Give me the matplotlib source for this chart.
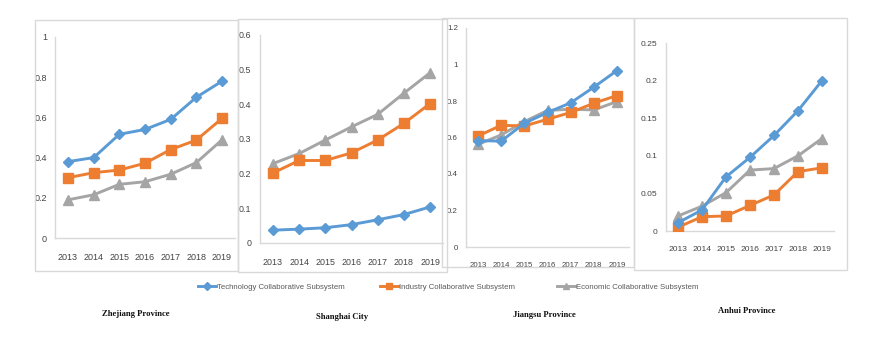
import matplotlib
matplotlib.use("Agg")
import matplotlib.pyplot as plt
from matplotlib.patches import Rectangle
from matplotlib.ticker import FuncFormatter, MultipleLocator
import numpy as np

years = ["2013", "2014", "2015", "2016", "2017", "2018", "2019"]
series_names = ["Technology Collaborative Subsystem",
                "Industry Collaborative Subsystem",
                "Economic Collaborative Subsystem"]

zhejiang_tech = [0.38, 0.40, 0.516, 0.54, 0.59, 0.70, 0.78]
zhejiang_ind = [0.30, 0.325, 0.338, 0.372, 0.44, 0.487, 0.595]
zhejiang_eco = [0.19, 0.215, 0.267, 0.28, 0.317, 0.375, 0.488]

shanghai_tech = [0.037, 0.040, 0.044, 0.053, 0.067, 0.082, 0.104]
shanghai_ind = [0.202, 0.238, 0.238, 0.26, 0.297, 0.345, 0.402]
shanghai_eco = [0.229, 0.258, 0.297, 0.335, 0.371, 0.432, 0.491]

jiangsu_tech = [0.583, 0.58, 0.678, 0.737, 0.79, 0.876, 0.967]
jiangsu_ind = [0.608, 0.667, 0.663, 0.70, 0.737, 0.788, 0.83]
jiangsu_eco = [0.562, 0.614, 0.687, 0.748, 0.755, 0.751, 0.797]

anhui_tech = [0.011, 0.028, 0.072, 0.098, 0.127, 0.16, 0.20]
anhui_ind = [0.005, 0.019, 0.020, 0.034, 0.048, 0.079, 0.084]
anhui_eco = [0.020, 0.033, 0.051, 0.081, 0.083, 0.10, 0.123]

titles = ["Zhejiang Province", "Shanghai City", "Jiangsu Province", "Anhui Province"]
ymax = [1.0, 0.6, 1.2, 0.25]
ystep = [0.2, 0.1, 0.2, 0.05]

W, H = 881, 340
colors = ["#5B9BD5", "#ED7D31", "#A5A5A5"]
markers = ["D", "s", "^"]
msizes = [5.5, 7, 7]

sans = ["Liberation Sans Narrow", "Liberation Sans", "DejaVu Sans"]
serif = ["Liberation Serif", "DejaVu Serif"]
tick_color = "#444444"
axis_color = "#D9D9D9"

fig = plt.figure(figsize=(W / 100, H / 100), dpi=100)

def px_rect(x0, y0, x1, y1):
    return [x0 / W, 1 - y1 / H, (x1 - x0) / W, (y1 - y0) / H]

# panel frames (pixels: x0, y0, x1, y1)
frames = [(35, 20, 238, 271), (238, 19, 447, 272), (442, 18, 634, 267), (634, 18, 847, 270)]
for (x0, y0, x1, y1) in frames:
    fig.add_artist(Rectangle((x0 / W, 1 - y1 / H), (x1 - x0) / W, (y1 - y0) / H,
                             transform=fig.transFigure, fill=False,
                             edgecolor=axis_color, lw=1.0))

# axes placement in pixels (left, top, right, bottom)
axes_px = [(55.2, 37, 234.8, 238), (259.9, 35, 443.1, 243),
           (466.4, 28, 628.6, 247), (666, 43, 834, 231)]
tick_sizes = [6.5, 6.4, 5.7, 6.1]

data = [
    (zhejiang_tech, zhejiang_ind, zhejiang_eco),
    (shanghai_tech, shanghai_ind, shanghai_eco),
    (jiangsu_tech, jiangsu_ind, jiangsu_eco),
    (anhui_tech, anhui_ind, anhui_eco),
]

title_pos = [(136, 314), (342, 317), (544, 315), (747, 311)]

handles = None
x = np.arange(len(years))
for i, (l, t, r, b) in enumerate(axes_px):
    ax = fig.add_axes(px_rect(l, t, r, b))
    hs = []
    for j, vals in enumerate(data[i]):
        h, = ax.plot(x, vals, color=colors[j], lw=2.1, marker=markers[j],
                     ms=msizes[j], label=series_names[j], zorder=3 + (2 - j) * 0.1)
        hs.append(h)
    if handles is None:
        handles = hs
    ax.set_xlim(-0.5, len(years) - 0.5)
    ax.set_ylim(0, ymax[i])
    ax.yaxis.set_major_locator(MultipleLocator(ystep[i]))
    ax.yaxis.set_major_formatter(FuncFormatter(lambda v, p: f"{round(v, 4):g}"))
    ax.set_xticks(x)
    ax.set_xticklabels(years)
    for s in ["top", "right"]:
        ax.spines[s].set_visible(False)
    for s in ["left", "bottom"]:
        ax.spines[s].set_color(axis_color)
        ax.spines[s].set_linewidth(1.0)
    ax.tick_params(axis="both", length=0, colors=tick_color, labelsize=tick_sizes[i])
    ax.tick_params(axis="x", pad=11)
    ax.tick_params(axis="y", pad=6)
    for lab in ax.get_xticklabels() + ax.get_yticklabels():
        lab.set_family(sans)
    ax.patch.set_alpha(0)
    tx, ty = title_pos[i]
    fig.text(tx / W, 1 - ty / H, titles[i], ha="center", va="center",
             family=serif, fontsize=6.2, fontweight="bold", color="#111111")

# legend entries, one per series, placed at their handle start (pixels)
legend_x = [198, 380, 557]
legend_y = 287
for j in range(3):
    leg = fig.legend(handles=[handles[j]], labels=[series_names[j]], loc="center left",
                     bbox_to_anchor=(legend_x[j] / W, 1 - legend_y / H), frameon=False,
                     prop={"family": sans, "size": 5.6}, handlelength=2.3,
                     handletextpad=0.15, borderpad=0, borderaxespad=0,
                     markerscale=0.7)
    for txt in leg.get_texts():
        txt.set_color("#595959")

fig.savefig("out.png", dpi=100)
